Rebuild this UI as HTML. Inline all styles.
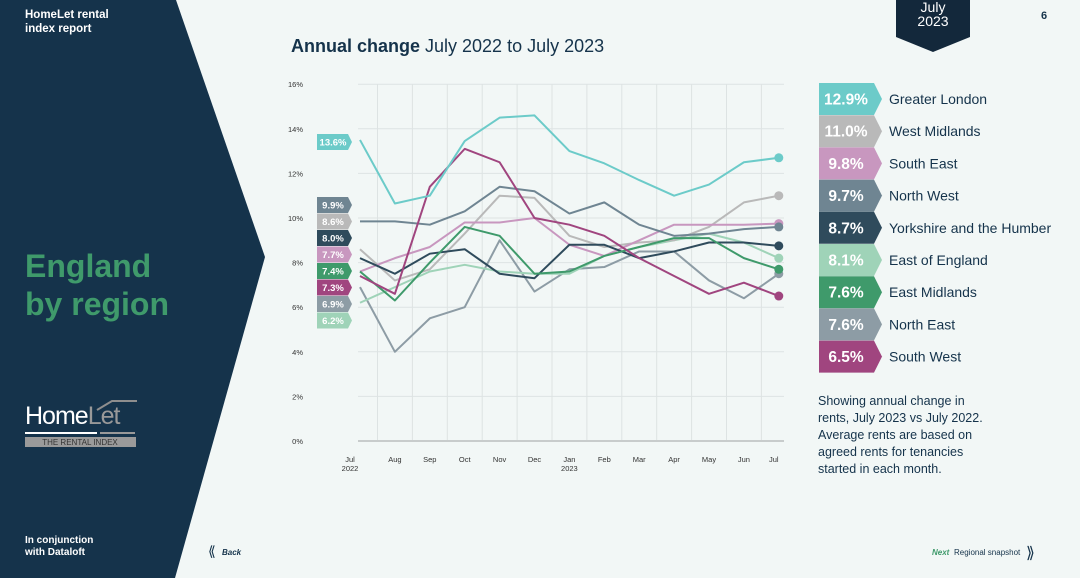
<!DOCTYPE html>
<html><head><meta charset="utf-8"><style>
body{margin:0;width:1080px;height:578px;overflow:hidden;background:#f2f7f6;font-family:"Liberation Sans",Arial,sans-serif;position:relative}
.abs{position:absolute}
</style></head><body>
<svg class="abs" style="left:0;top:0" width="1080" height="578">
<polygon points="0,0 176,0 265,257 175,578 0,578" fill="#15334b"/>
<polygon points="896,0 970,0 970,37 933,52 896,37" fill="#13283b"/>
<text x="933" y="12" fill="#fff" font-size="14" text-anchor="middle">July</text>
<text x="933" y="26" fill="#fff" font-size="14" text-anchor="middle">2023</text>
<text x="1044" y="19" fill="#15334b" font-size="11" font-weight="bold" text-anchor="middle">6</text>
<text x="25" y="18" fill="#fff" font-size="11.5" font-weight="bold">HomeLet rental</text>
<text x="25" y="32" fill="#fff" font-size="11.5" font-weight="bold">index report</text>
<text x="25" y="277" fill="#3f9a6b" font-size="32" font-weight="bold">England</text>
<text x="25" y="315" fill="#3f9a6b" font-size="32" font-weight="bold">by region</text>
<g>
<polyline points="97,410 112,401 137,401" fill="none" stroke="#8e8e8e" stroke-width="2"/>
<text x="25" y="424" fill="#fff" font-size="25" letter-spacing="-1">Home<tspan fill="#999">Let</tspan></text>
<rect x="25" y="432" width="72" height="2" fill="#fff"/><rect x="100" y="432" width="35" height="2" fill="#999"/>
<rect x="25" y="437" width="111" height="10" fill="#9a9a9a"/>
<text x="80" y="445" fill="#333" font-size="8" text-anchor="middle">THE RENTAL INDEX</text>
</g>
<text x="25" y="543" fill="#fff" font-size="10" font-weight="bold">In conjunction</text>
<text x="25" y="555" fill="#fff" font-size="10" font-weight="bold">with Dataloft</text>
<text x="208" y="556" fill="#15334b" font-size="14">⟪</text>
<text x="222" y="555" fill="#15334b" font-size="8" font-weight="bold" font-style="italic">Back</text>
<text x="932" y="555" fill="#3f9a6b" font-size="8" font-weight="bold" font-style="italic">Next</text>
<text x="954" y="555" fill="#15334b" font-size="8">Regional snapshot</text>
<text x="1026" y="558" fill="#15334b" font-size="16">⟫</text>
<text x="291" y="52" fill="#15334b" font-size="18"><tspan font-weight="bold">Annual change</tspan> July 2022 to July 2023</text>
<g id="chart"></g>
<g id="legend"></g>
<text x="818" y="405" fill="#15334b" font-size="12.5">Showing annual change in</text>
<text x="818" y="422" fill="#15334b" font-size="12.5">rents, July 2023 vs July 2022.</text>
<text x="818" y="439" fill="#15334b" font-size="12.5">Average rents are based on</text>
<text x="818" y="456" fill="#15334b" font-size="12.5">agreed rents for tenancies</text>
<text x="818" y="473" fill="#15334b" font-size="12.5">started in each month.</text>
</svg>
<script>
const months=["Jul","Aug","Sep","Oct","Nov","Dec","Jan","Feb","Mar","Apr","May","Jun","Jul"];
const yTicks=[0,2,4,6,8,10,12,14,16];
const names=["Greater London","West Midlands","South East","North West","Yorkshire and the Humber","East of England","East Midlands","North East","South West"];
const colors=["#6ccbc9","#b9b9b9","#c897bf","#6f8592","#2f4b5c","#9fd3b8","#3f9a6b","#8d9ca5","#a0457f"];
const latest=["12.9%","11.0%","9.8%","9.7%","8.7%","8.1%","7.6%","7.6%","6.5%"];
const startLabels=["13.6%","9.9%","8.6%","8.0%","7.7%","7.4%","7.3%","6.9%","6.2%"];
const startColors=["#6ccbc9","#6f8592","#b9b9b9","#2f4b5c","#c897bf","#3f9a6b","#a0457f","#8d9ca5","#9fd3b8"];
const gLondon=[13.5,10.65,11.0,13.45,14.5,14.6,13.0,12.45,11.7,11.0,11.5,12.5,12.7];
const wMidlands=[8.6,7.2,7.7,9.3,11.0,10.9,9.2,8.7,8.9,9.0,9.6,10.7,11.0];
const sEast=[7.6,8.2,8.7,9.8,9.8,10.0,8.8,8.3,9.0,9.7,9.7,9.7,9.75];
const nWest=[9.85,9.85,9.7,10.3,11.4,11.2,10.2,10.7,9.7,9.2,9.3,9.5,9.6];
const yorks=[8.2,7.5,8.4,8.6,7.5,7.3,8.8,8.8,8.2,8.5,8.9,8.9,8.75];
const eEngland=[6.2,6.9,7.6,7.9,7.6,7.5,7.5,8.3,8.7,9.0,9.3,8.9,8.2];
const eMidlands=[7.6,6.3,8.0,9.6,9.2,7.5,7.6,8.3,8.7,9.1,9.1,8.2,7.7];
const nEast=[6.9,4.0,5.5,6.0,9.0,6.7,7.7,7.8,8.5,8.5,7.2,6.4,7.5];
const sWest=[7.4,6.6,11.4,13.1,12.5,10.0,9.7,9.2,8.2,7.4,6.6,7.1,6.5];
const series=[gLondon,wMidlands,sEast,nWest,yorks,eEngland,eMidlands,nEast,sWest];
const drawOrder=[7,5,1,2,3,4,6,8,0];
const NS="http://www.w3.org/2000/svg";
const X=i=>360+i*34.9, Y=v=>441-v*22.3;
const g=document.getElementById('chart');
function mk(t,a,p){const e=document.createElementNS(NS,t);for(const k in a)e.setAttribute(k,a[k]);(p||g).appendChild(e);return e;}
for(let i=0;i<12;i++){const l=mk('line',{x1:X(i)+17.5,x2:X(i)+17.5,y1:84,y2:441,stroke:"#dde3e3","stroke-width":1});

}
yTicks.forEach(v=>{const l=mk('line',{x1:358,x2:784,y1:Y(v),y2:Y(v),stroke:v==0?"#c8cccc":"#dde3e3","stroke-width":v==0?2:1});


const t=mk('text',{x:303,y:Y(v)+3,"font-size":7.5,fill:"#333","text-anchor":"end"});t.textContent=v+"%";

});
months.forEach((m,i)=>{const t=mk('text',{x:X(i)-(i==0?10:i==12?5:0),y:462,"font-size":7.5,fill:"#333","text-anchor":"middle"});t.textContent=m;


if(i==0||i==6){const t2=mk('text',{x:X(i)-(i==0?10:0),y:471,"font-size":7.5,fill:"#333","text-anchor":"middle"});t2.textContent=i==0?"2022":"2023";

}});
drawOrder.forEach(s=>{const d=series[s].map((v,i)=>(i?"L":"M")+X(i)+","+Y(v)).join("");
const p=mk('path',{d:d,fill:"none",stroke:colors[s],"stroke-width":2,"stroke-linejoin":"round"});


const c=mk('circle',{cx:X(12),cy:Y(series[s][12]),r:4.5,fill:colors[s]});

});
startLabels.forEach((lab,k)=>{const cy=k==0?142:205+(k-1)*16.5;
const p=mk('polygon',{points:`317,${cy-8} 348,${cy-8} 352,${cy} 348,${cy+8} 317,${cy+8}`,fill:startColors[k]});


const t=mk('text',{x:333,y:cy+3.5,"font-size":9.5,"font-weight":"bold",fill:"#fff","text-anchor":"middle"});t.textContent=lab;});
const lg=document.getElementById('legend');
names.forEach((n,k)=>{const top=83+k*32.2,b=top+32,m=top+16;
const p=mk('polygon',{points:`819,${top} 874,${top} 882,${m} 874,${b} 819,${b}`,fill:colors[k]},lg);


const t=mk('text',{x:846,y:m+5.5,"font-size":15.5,"font-weight":"bold",fill:"#fff","text-anchor":"middle"},lg);t.textContent=latest[k];
const t2=mk('text',{x:889,y:m+5,"font-size":14,fill:"#15334b"},lg);t2.textContent=n;

});
</script>
</body></html>
